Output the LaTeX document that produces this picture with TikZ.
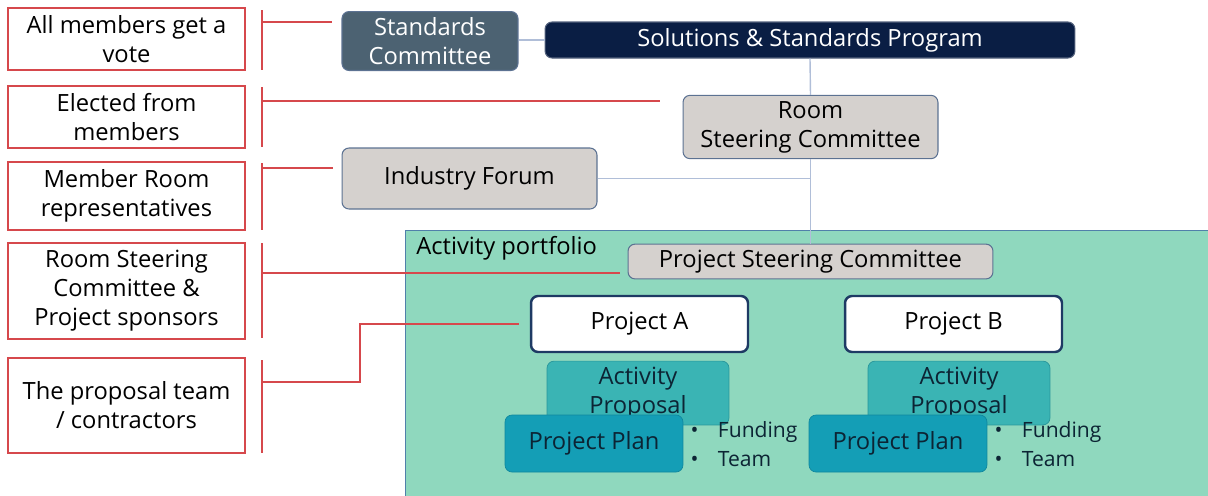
\documentclass[tikz,border=0pt]{standalone}
\usepackage{fontspec}
\setmainfont{Open Sans}
\usetikzlibrary{positioning}
\definecolor{noteRed}{RGB}{214,72,76}
\definecolor{stdFill}{RGB}{76,98,114}
\definecolor{navyFill}{RGB}{10,30,68}
\definecolor{greyFill}{RGB}{213,209,206}
\definecolor{greyEdge}{RGB}{92,114,146}
\definecolor{mintFill}{RGB}{143,216,190}
\definecolor{mintEdge}{RGB}{80,128,170}
\definecolor{projEdge}{RGB}{30,58,100}
\definecolor{propFill}{RGB}{58,180,180}
\definecolor{propEdge}{RGB}{40,150,155}
\definecolor{planFill}{RGB}{20,158,182}
\definecolor{planEdge}{RGB}{15,135,158}
\definecolor{linkBlue}{RGB}{176,190,216}
\definecolor{darkText}{RGB}{12,36,52}
\tikzset{
  note/.style={
    rectangle, draw=noteRed, fill=white, line width=0.8pt,
    minimum width=4.74cm, align=center, inner sep=2pt
  },
  darkbox/.style={
    rectangle, rounded corners=4pt, draw=greyEdge, fill=stdFill,
    text=white, align=center, line width=0.6pt
  },
  greybox/.style={
    rectangle, rounded corners=4pt, draw=greyEdge, fill=greyFill,
    align=center, line width=0.6pt
  },
  projbox/.style={
    rectangle, rounded corners=4pt, draw=projEdge, fill=white,
    line width=1.4pt, minimum width=4.34cm, minimum height=1.12cm
  },
  propbox/.style={
    rectangle, rounded corners=4pt, draw=propEdge, fill=propFill,
    text=darkText, align=center, minimum width=3.64cm, minimum height=1.16cm
  },
  planbox/.style={
    rectangle, rounded corners=4pt, draw=planEdge, fill=planFill,
    text=darkText, minimum width=3.56cm, minimum height=1.14cm
  },
  bullets/.style={inner sep=0pt, font=\fontsize{12}{16.4}\selectfont, text=darkText},
  redline/.style={draw=noteRed, line width=0.8pt},
  link/.style={draw=linkBlue, line width=0.8pt}
}

\begin{document}
\begin{tikzpicture}[x=0.02cm, y=-0.02cm, font=\fontsize{13.5}{16.5}\selectfont]
\useasboundingbox (0,0) rectangle (1208,495);

% Activity portfolio area
\node[draw=mintEdge, fill=mintFill, line width=0.8pt, anchor=north west,
  minimum width=16.2cm, minimum height=5.5cm] (port) at (405,230) {};
\node[anchor=north west, inner sep=0pt] (portlabel) at (416,236) {Activity portfolio};

% Left notes
\node[note, minimum height=1.24cm] (note1) at (126.5,39) {All members get a\\vote};
\node[note, minimum height=1.24cm] (note2) at (126.5,117) {Elected from\\members};
\node[note, minimum height=1.36cm] (note3) at (126.5,196) {Member Room\\representatives};
\node[note, minimum height=1.92cm] (note4) at (126.5,291) {Room Steering\\Committee \&\\Project sponsors};
\node[note, minimum height=1.9cm] (note5) at (126.5,405.5) {The proposal team\\/ contractors};

% Committees
\node[darkbox, minimum width=3.52cm, minimum height=1.16cm] (stdcom) at (430,41) {Standards\\Committee};
\node[darkbox, draw=navyFill!70!white, fill=navyFill, minimum width=10.6cm, minimum height=0.72cm] (ssp) at (810,40) {Solutions \& Standards Program};
\node[greybox, minimum width=5.1cm, minimum height=1.24cm] (rsc) at (810.5,127) {Room\\Steering Committee};
\node[greybox, minimum width=5.1cm, minimum height=1.22cm] (forum) at (469.5,178.5) {Industry Forum};
\node[greybox, minimum width=7.3cm, minimum height=0.66cm] (psc) at (810.5,261.5) {Project Steering Committee};

% Projects
\node[projbox] (projA) at (639.5,324) {Project A};
\node[projbox] (projB) at (953.5,324) {Project B};
\node[propbox] (propA) at (638,393) {Activity\\Proposal};
\node[propbox] (propB) at (959,393) {Activity\\Proposal};
\node[planbox] (planA) at (594,443.5) {Project Plan};
\node[planbox] (planB) at (898,443.5) {Project Plan};
\node[bullets, right=0.14cm of planA, yshift=-0.06cm] (itemsA)
  {\begin{tabular}{@{}l@{\hspace{11pt}}l@{}}\textbullet & Funding\\ \textbullet & Team\end{tabular}};
\node[bullets, right=0.14cm of planB, yshift=-0.06cm] (itemsB)
  {\begin{tabular}{@{}l@{\hspace{11pt}}l@{}}\textbullet & Funding\\ \textbullet & Team\end{tabular}};

% Structure lines
\draw[link] (ssp.south) -- (rsc.north);
\draw[link] (rsc.south) -- (psc.north);
\draw[link] (stdcom.east |- ssp.west) -- (ssp.west);
\draw[link] (forum.east) -- (forum.east -| rsc.south);

% Brackets beside the notes
\coordinate (b1) at (262,22);
\coordinate (b2) at (262,101);
\coordinate (b3) at (262,168);
\coordinate (b4) at (262,273);
\coordinate (b5) at (262,382);
\coordinate (k5) at (360,382);
\draw[redline] (262,10) -- (262,70);
\draw[redline] (262,87) -- (262,147);
\draw[redline] (262,163) -- (262,230);
\draw[redline] (262,243) -- (262,338);
\draw[redline] (262,360) -- (262,453);

% Red pointers
\draw[redline, shorten >=0.18cm] (b1) -- (stdcom.west |- b1);
\draw[redline, shorten >=0.46cm] (b2) -- (rsc.west |- b2);
\draw[redline, shorten >=0.18cm] (b3) -- (forum.west |- b3);
\draw[redline, shorten >=0.16cm] (b4) -- (psc.west |- b4);
\draw[redline, shorten >=0.22cm] (b5) -- (k5) |- (projA.west);

\end{tikzpicture}
\end{document}
